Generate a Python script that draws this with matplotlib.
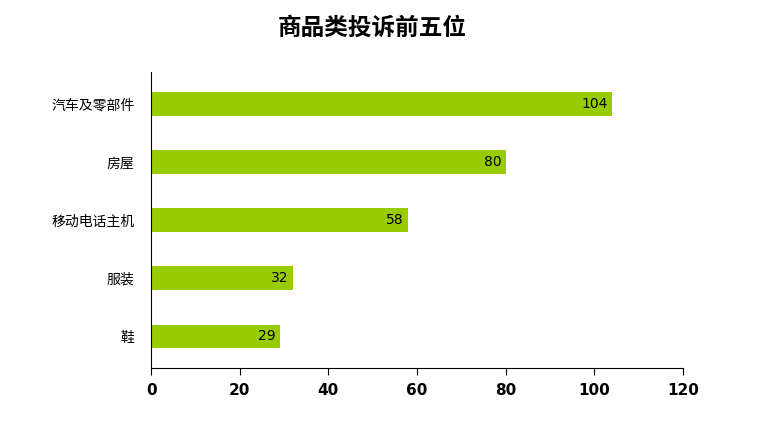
import matplotlib
matplotlib.use("Agg")
import matplotlib.pyplot as plt

plt.rcParams['font.family'] = ['Noto Sans CJK SC', 'DejaVu Sans']

categories = ["汽车及零部件", "房屋", "移动电话主机", "服装", "鞋"]
values = [104, 80, 58, 32, 29]
xticks = [0, 20, 40, 60, 80, 100, 120]

fig = plt.figure(figsize=(7.75, 4.24), dpi=100)
ax = fig.add_axes([0.195, 0.132, 0.686, 0.698])
ypos = list(range(len(categories)))[::-1]
ax.barh(ypos, values, height=0.4, color="#99CC00")
for y, v in zip(ypos, values):
    ax.text(v - 1, y, str(v), ha="right", va="center", fontsize=10, family="DejaVu Sans")
ax.set_yticks(ypos)
ax.set_yticklabels(categories, fontsize=10)
ax.set_ylim(-0.55, 4.55)
ax.set_xlim(0, 120)
ax.set_xticks(xticks)
ax.set_xticklabels([str(t) for t in xticks], fontsize=11, fontweight="bold", family="DejaVu Sans")
ax.tick_params(axis="y", length=0, pad=12)
ax.tick_params(axis="x", direction="out", length=5, pad=6)
for s in ["top", "right"]:
    ax.spines[s].set_visible(False)
fig.text(0.48, 0.935, "商品类投诉前五位", ha="center", va="center", fontsize=17, fontweight="bold")
fig.savefig("out.png", dpi=100)
